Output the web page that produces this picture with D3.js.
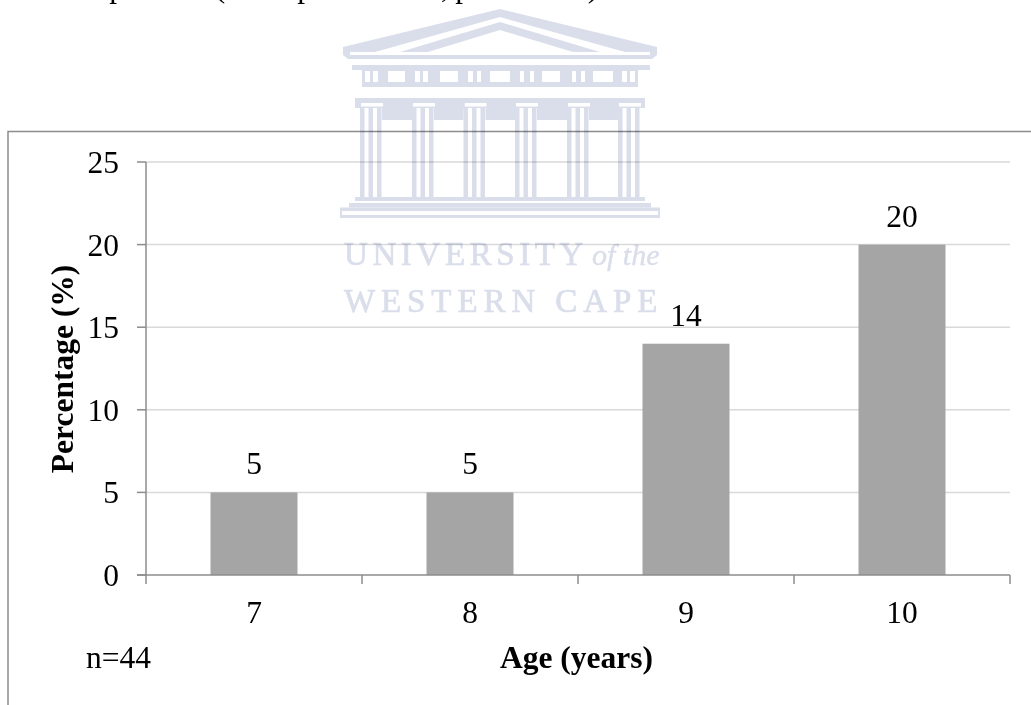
<!DOCTYPE html>
<html><head><meta charset="utf-8">
<script src="https://cdn.jsdelivr.net/npm/d3@7"></script>
<style>html,body{margin:0;padding:0;background:#fff;overflow:hidden}svg{display:block}text{font-family:"Liberation Serif",serif;fill:#000}</style>
</head><body><svg id="c" width="1031" height="705"></svg>
<script>
const categories=["7","8","9","10"];
const values=[5,5,14,20];
const yTicks=[0,5,10,15,20,25];
const yTitle="Percentage (%)";
const xTitle="Age (years)";
const note="n=44";
const croppedLineGlyphs=["p","(","p",",","p",")"];
const svg=d3.select("#c");
const FS=31.5;
const crest="#dadeeb";
const axis="#8c8c8c";
const x=d3.scaleBand().domain(categories).range([146,1010]);
const y=d3.scaleLinear().domain([0,25]).range([575,162]);

// text line cropped by the top edge of the picture
const glyphX=[117,220,305,445,463,593];
svg.append("g").selectAll("text").data(croppedLineGlyphs).join("text")
 .attr("x",(d,i)=>glyphX[i]).attr("y",-3).attr("text-anchor","middle").attr("font-size",FS).text(d=>d);

// frame
const frame=d3.path();frame.moveTo(8,705);frame.lineTo(8,131.5);frame.lineTo(1031,131.5);
svg.append("path").attr("d",frame.toString()).attr("fill","none").attr("stroke",axis).attr("stroke-width",1.5);

// gridlines
svg.append("g").selectAll("line").data(yTicks.filter(d=>d>0)).join("line")
 .attr("x1",146).attr("x2",1010).attr("y1",d=>y(d)).attr("y2",d=>y(d))
 .attr("stroke","#d9d9d9").attr("stroke-width",1.5);

// bars
svg.append("g").selectAll("rect").data(values).join("rect")
 .attr("x",(d,i)=>x(categories[i])+x.bandwidth()/2-43.5).attr("width",87)
 .attr("y",d=>y(d)).attr("height",d=>y(0)-y(d)).attr("fill","#a5a5a5");

// axes
svg.append("line").attr("x1",137).attr("x2",1010).attr("y1",575).attr("y2",575).attr("stroke",axis).attr("stroke-width",1.5);
svg.append("line").attr("x1",146).attr("x2",146).attr("y1",162).attr("y2",584).attr("stroke",axis).attr("stroke-width",1.5);
svg.append("g").selectAll("line").data(yTicks).join("line").attr("x1",137).attr("x2",146).attr("y1",d=>y(d)).attr("y2",d=>y(d)).attr("stroke",axis).attr("stroke-width",1.5);
svg.append("g").selectAll("line").data(d3.range(1,5)).join("line")
 .attr("x1",i=>146+i*x.bandwidth()).attr("x2",i=>146+i*x.bandwidth()).attr("y1",575).attr("y2",584).attr("stroke",axis).attr("stroke-width",1.5);

// text
svg.append("g").selectAll("text").data(yTicks).join("text").attr("x",119).attr("y",d=>y(d)+11).attr("text-anchor","end").attr("font-size",FS).text(d=>d);
svg.append("g").selectAll("text").data(categories).join("text").attr("x",d=>x(d)+x.bandwidth()/2).attr("y",623).attr("text-anchor","middle").attr("font-size",FS).text(d=>d);
svg.append("g").selectAll("text").data(values).join("text").attr("x",(d,i)=>x(categories[i])+x.bandwidth()/2).attr("y",d=>y(d)-18).attr("text-anchor","middle").attr("font-size",FS).text(d=>d);
svg.append("text").attr("transform","translate(73,369) rotate(-90)").attr("text-anchor","middle").attr("font-size",FS).attr("font-weight",700).text(yTitle);
svg.append("text").attr("x",576.5).attr("y",668).attr("text-anchor","middle").attr("font-size",FS).attr("font-weight",700).text(xTitle);
svg.append("text").attr("x",86).attr("y",668).attr("font-size",FS).text(note);

// watermark, multiplied over the chart
const defs=svg.append("defs");
defs.append("filter").attr("id","soft").attr("x","-5%").attr("y","-5%").attr("width","110%").attr("height","110%")
 .append("feGaussianBlur").attr("stdDeviation",0.7);
defs.append("clipPath").attr("id","wmclip").append("rect").attr("x",330).attr("y",0).attr("width",340).attr("height",313);
const wmOuter=svg.append("g").attr("clip-path","url(#wmclip)").style("mix-blend-mode","multiply");
const wm=wmOuter.append("g").attr("filter","url(#soft)");
const R=(a,b,c,d,f)=>wm.append("rect").attr("x",a).attr("y",b).attr("width",c-a).attr("height",d-b).attr("fill",f||crest);
const W=(a,b,c,d)=>R(a,b,c,d,"#fff");
const P=(d,f)=>wm.append("path").attr("d",d).attr("fill",f||crest);
wm.append("rect").attr("x",330).attr("y",0).attr("width",340).attr("height",320).attr("fill","#fff");
// pediment
P("M500,9 L657,47 L657,55 L652,59 L348,59 L343,55 L343,47 Z");
P("M500,17 L625,52 L375,52 Z","#fff");
P("M500,22 L600,52 L400,52 Z");
P("M500,30 L583,55 L418,55 Z","#fff");
W(350,52,650,55);
// entablature
W(355,59.5,645,65);
R(352,65,650,70);
R(362,70,638,83);
[[388,405],[440,458],[490,510],[542,560],[593,613]].forEach(d=>W(d[0],71,d[1],82));
[[365,370],[373,378],[415,420],[423,428],[468,473],[477,481],[520,524],[530,534],[572,576],[581,585],[622,627],[630,635]].forEach(d=>W(d[0],71,d[1],82));
R(362,83,638,87);
W(365,87,636,97);
R(355,98,645,108);
R(362,108,638,120);
// columns
[360,412,463.5,515,567,618].forEach(c=>{
  W(c+1,103,c+23,106.5);
  W(c,108,c+22,120);
  R(c-1,103,c+1,107);
  [0,8.5,17].forEach(o=>R(c+o,108,c+o+4.5,198));
});
// stylobate
R(355,197,645,201);
W(355,201,645,203);
R(349,203,651,207.5);
R(340,207.5,660,218);
W(342,211,658,215);
// lettering
wm.append("text").attr("x",344).attr("y",265).attr("font-size",33).attr("letter-spacing",4.6).style("fill",crest).style("stroke",crest).style("stroke-width",0.7).text("UNIVERSITY");
wm.append("text").attr("x",592).attr("y",265).attr("font-size",30).attr("font-style","italic").style("fill",crest).style("stroke",crest).style("stroke-width",0.4).text("of the");
wm.append("text").attr("x",344).attr("y",312).attr("font-size",33).attr("letter-spacing",5.9).style("fill",crest).style("stroke",crest).style("stroke-width",0.7).text("WESTERN CAPE");
</script></body></html>
